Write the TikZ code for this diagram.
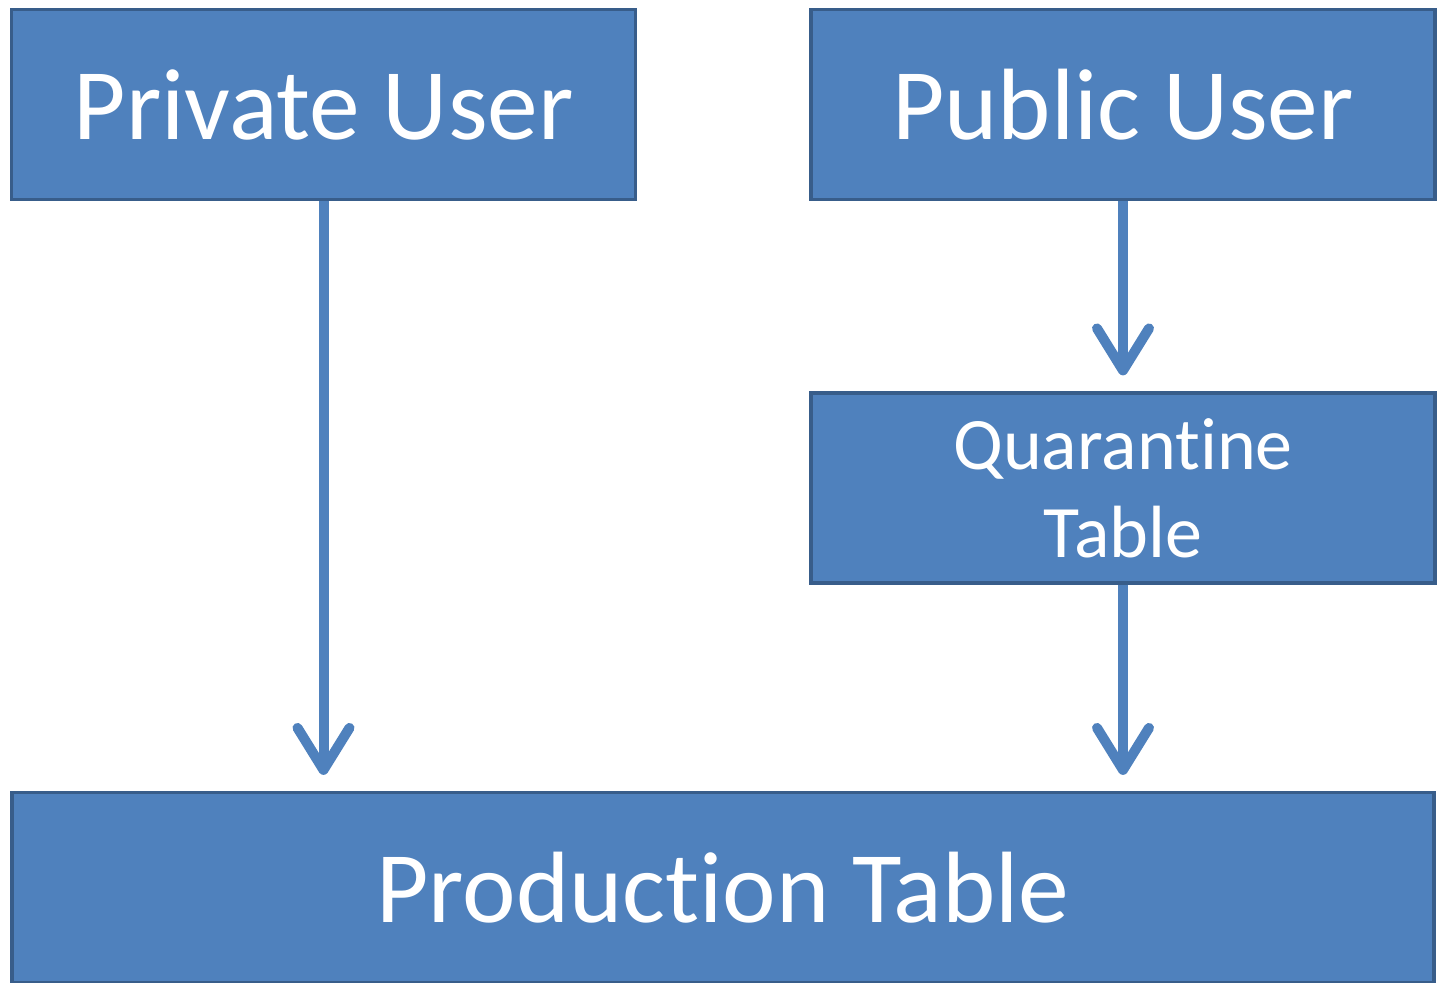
\documentclass[tikz,border=0pt]{standalone}
\usepackage{fontspec}
\setmainfont[Ligatures=NoCommon]{Carlito}
\usetikzlibrary{arrows.meta}
\definecolor{boxfill}{HTML}{4F81BD}
\definecolor{boxline}{HTML}{385D8A}
\begin{document}
\begin{tikzpicture}[x=0.5pt,y=-0.5pt,
    box/.style={draw=boxline,fill=boxfill,line width=1.6pt,text=white,
      minimum width=312pt,minimum height=95pt,inner sep=0pt,align=center},
    big/.style={font=\fontsize{50.7}{57}\selectfont},
    small/.style={font=\fontsize{37}{44}\selectfont},
    flow/.style={draw=boxfill,line width=5pt,
      -{Straight Barb[length=21pt,width=26pt,round]},shorten >=8pt}]
    \useasboundingbox (0,0) rectangle (1437,983);
    \node[box,big] (priv) at (323.5,104.5) {Private User};
    \node[box,big] (pub) at (1123,104.5) {Public User};
    \node[box,small] (quar) at (1123,488) {Quarantine\\Table};
    \node[box,big,minimum width=711pt] (prod) at (723,887.5) {Production Table};
    \draw[flow] (priv) -- (priv |- prod.north);
    \draw[flow] (pub) -- (quar);
    \draw[flow] (quar) -- (quar |- prod.north);
\end{tikzpicture}
\end{document}
